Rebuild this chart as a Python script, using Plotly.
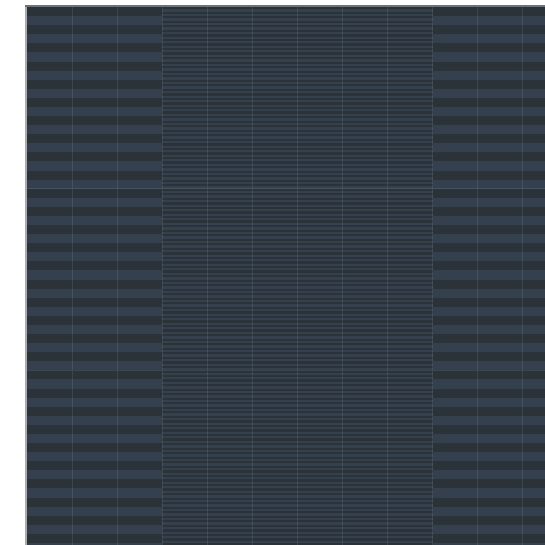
import plotly.graph_objects as go

# Column layout (one column per x unit): outer columns have wide bands, inner columns fine bands
column_kinds = ["wide", "wide", "wide", "fine", "fine", "fine", "fine", "fine", "fine", "wide", "wide", "wide"]
rows_per_band = {"wide": 4, "fine": 1}   # in units of fine rows
fine_row_height = 0.0125
n_fine_rows = 240
x_edges = list(range(len(column_kinds) + 1))
y_edges = [i * fine_row_height for i in range(n_fine_rows + 1)]

z = []
for r in range(n_fine_rows):
    row = []
    for kind in column_kinds:
        row.append((r // rows_per_band[kind]) % 2)
    z.append(row)

DARK_BG = "#2c3339"
fig = go.Figure(
    go.Heatmap(
        x=x_edges,
        y=y_edges,
        z=z,
        colorscale=[[0, "rgba(44,51,57,0.8)"], [1, "rgba(55,68,83,0.8)"]],
        showscale=False,
        hoverinfo="skip",
        zmin=0,
        zmax=1,
    )
)

fig.update_layout(
    width=545,
    height=545,
    margin=dict(l=27, r=0, t=7, b=0),
    paper_bgcolor="white",
    plot_bgcolor=DARK_BG,
    showlegend=False,
)
fig.update_xaxes(
    range=[0, 11.49],
    dtick=1,
    tick0=0,
    showgrid=True,
    gridcolor="#7d8a97",
    gridwidth=1,
    zeroline=False,
    showticklabels=False,
    ticks="",
    side="top",
    showline=True,
    linecolor="#6b747c",
    linewidth=2,
)
fig.update_yaxes(
    range=[2.964, 0],
    dtick=1,
    tick0=0,
    showgrid=True,
    gridcolor="#7d8a97",
    gridwidth=1,
    zeroline=False,
    showticklabels=False,
    ticks="",
    showline=True,
    linecolor="#a9adb1",
    linewidth=2,
)

fig.write_html(
    "out.html",
    config={"displayModeBar": False},
    post_script="document.body.style.margin='0';document.body.style.overflow='hidden';",
)
